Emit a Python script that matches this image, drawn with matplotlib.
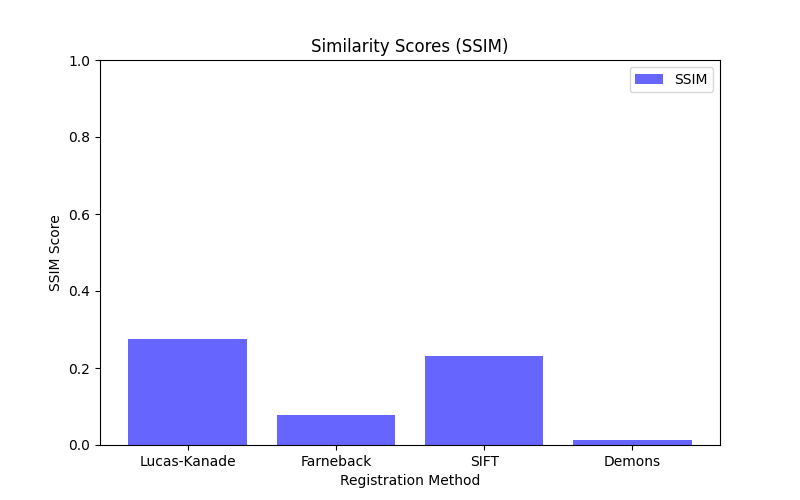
import matplotlib
matplotlib.use("Agg")
import matplotlib.pyplot as plt

methods = ["Lucas-Kanade", "Farneback", "SIFT", "Demons"]
ssim_scores = [0.276, 0.078, 0.232, 0.012]

fig, ax = plt.subplots(figsize=(8, 5), dpi=100)
ax.bar(methods, ssim_scores, color="blue", alpha=0.6, label="SSIM")
ax.set_ylim(0, 1)
ax.set_xlabel("Registration Method")
ax.set_ylabel("SSIM Score")
ax.set_title("Similarity Scores (SSIM)")
ax.legend()
fig.savefig("out.png")
